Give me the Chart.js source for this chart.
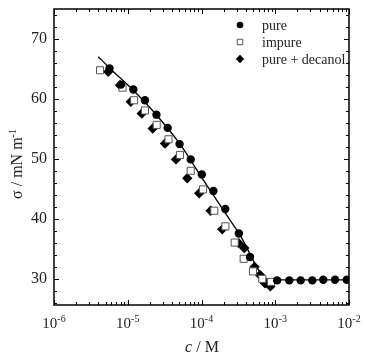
<!DOCTYPE html>
<html>
<head>
<meta charset="utf-8">
<script src="https://cdn.jsdelivr.net/npm/chart.js@4.4.1/dist/chart.umd.min.js"></script>
<style>
    html, body { margin: 0; padding: 0; background: #fff; }
    #wrap { width: 367px; height: 360px; }
</style>
</head>
<body>
<div id="wrap"><canvas id="chart1" width="367" height="360"></canvas></div>
<script>
"use strict";

// concentration c / M and surface tension sigma / mN m^-1
const cPure = [5.66e-6, 8.09e-6, 1.19e-5, 1.71e-5, 2.45e-5, 3.48e-5, 5.04e-5, 7.14e-5, 1.01e-4, 1.45e-4,
    2.10e-4, 3.21e-4, 4.55e-4, 1.06e-3, 1.55e-3, 2.21e-3, 3.18e-3, 4.48e-3, 6.46e-3, 9.31e-3];
const sigmaPure = [65.1, 62.4, 61.6, 59.8, 57.4, 55.2, 52.5, 49.95, 47.45, 44.7,
    41.7, 37.6, 33.7, 29.8, 29.8, 29.8, 29.8, 29.9, 29.9, 29.9];

const cImpure = [4.21e-6, 8.49e-6, 1.22e-5, 1.71e-5, 2.47e-5, 3.57e-5, 5.11e-5, 7.14e-5, 1.05e-4, 1.49e-4,
    2.11e-4, 2.82e-4, 3.73e-4, 4.99e-4, 6.67e-4, 8.75e-4];
const sigmaImpure = [64.8, 61.9, 59.8, 58.1, 55.7, 53.3, 50.7, 48.05, 44.95, 41.4,
    38.8, 36.1, 33.4, 31.3, 30.05, 29.55];

const cDecanol = [5.44e-6, 7.85e-6, 1.10e-5, 1.55e-5, 2.18e-5, 3.20e-5, 4.51e-5, 6.41e-5, 9.31e-5, 1.33e-4,
    1.91e-4, 3.21e-4, 3.80e-4, 5.24e-4, 6.21e-4, 7.26e-4, 8.59e-4];
const sigmaDecanol = [64.55, 62.3, 59.55, 57.6, 55.1, 52.6, 49.95, 46.8, 44.3, 41.4,
    38.3, 36.0, 35.2, 32.05, 30.7, 29.3, 28.8];

// fitted curve
const cFit = [3.99e-6, 5.74e-6, 1.18e-5, 2.47e-5, 5.11e-5, 1.06e-4, 3.19e-4, 8.36e-4, 1.0e-2];
const sigmaFit = [67.05, 65.1, 61.5, 57.3, 52.5, 46.5, 37.7, 29.9, 29.9];

const xDecades = [-6, -5, -4, -3, -2];
const yLabelValues = [30, 40, 50, 60, 70];

const legendNames = ['pure', 'impure', 'pure + decanol'];

const SERIF = '"Liberation Serif", "Times New Roman", serif';

const pairs = (xs, ys) => xs.map((v, i) => ({x: v, y: ys[i]}));

const markerCircle = {pointStyle: 'circle', radius: 4.2, legend: 3.3, fill: '#000', stroke: '#000', width: 0};
const markerSquare = {pointStyle: 'rect', radius: 5, legend: 3.9, fill: '#fff', stroke: '#555', width: 1};
const markerDiamond = {pointStyle: 'rectRot', radius: 5.2, legend: 4.2, fill: '#000', stroke: '#000', width: 0};

const frame = {
    id: 'frame',
    afterDraw(chart) {
        const {ctx, chartArea: a, scales: {x, y}} = chart;
        ctx.save();
        ctx.strokeStyle = '#000';
        ctx.lineWidth = 1.5;
        ctx.strokeRect(a.left, a.top, a.right - a.left, a.bottom - a.top);

        ctx.lineWidth = 1;
        ctx.beginPath();
        for (let v = 26; v <= 74; v += 2) {
            const py = Math.round(y.getPixelForValue(v)) + 0.5;
            const len = v % 10 === 0 ? 5 : 3;
            ctx.moveTo(a.left, py); ctx.lineTo(a.left + len, py);
            ctx.moveTo(a.right, py); ctx.lineTo(a.right - len, py);
        }
        for (const d of xDecades) {
            for (let k = 1; k <= 9; k++) {
                const val = k * Math.pow(10, d);
                if (val > 1.0001e-2) break;
                const px = Math.round(x.getPixelForValue(val)) + 0.5;
                const len = k === 1 ? 5 : 3;
                ctx.moveTo(px, a.bottom); ctx.lineTo(px, a.bottom - len);
                ctx.moveTo(px, a.top); ctx.lineTo(px, a.top + len);
            }
        }
        ctx.stroke();

        // x tick labels 10^d
        ctx.fillStyle = '#222';
        ctx.textBaseline = 'alphabetic';
        ctx.textAlign = 'left';
        for (const d of xDecades) {
            const px = x.getPixelForValue(Math.pow(10, d));
            ctx.font = '15px ' + SERIF;
            const w1 = ctx.measureText('10').width;
            ctx.font = '10px ' + SERIF;
            const sup = String(d);
            const w2 = ctx.measureText(sup).width;
            const start = px - (w1 + w2) / 2;
            ctx.font = '15px ' + SERIF;
            ctx.fillText('10', start, 328);
            ctx.font = '10px ' + SERIF;
            ctx.fillText(sup, start + w1, 322);
        }

        // x title
        ctx.font = 'italic 16px ' + SERIF;
        const wc = ctx.measureText('c').width;
        ctx.font = '16px ' + SERIF;
        const wr = ctx.measureText(' / M').width;
        let sx = 202 - (wc + wr) / 2;
        ctx.font = 'italic 16px ' + SERIF;
        ctx.fillText('c', sx, 352);
        ctx.font = '16px ' + SERIF;
        ctx.fillText(' / M', sx + wc, 352);

        // y title
        ctx.save();
        ctx.translate(22, 164);
        ctx.rotate(-Math.PI / 2);
        ctx.font = '16px ' + SERIF;
        const wm = ctx.measureText('σ / mN m').width;
        ctx.font = '10px ' + SERIF;
        const ws = ctx.measureText('-1').width;
        const ty = -(wm + ws) / 2;
        ctx.font = '16px ' + SERIF;
        ctx.fillText('σ / mN m', ty, 0);
        ctx.font = '10px ' + SERIF;
        ctx.fillText('-1', ty + wm, -6);
        ctx.restore();

        // legend
        const markers = [markerCircle, markerSquare, markerDiamond];
        const rows = [25, 42, 59];
        legendNames.forEach((name, i) => {
            const m = markers[i];
            ctx.fillStyle = m.fill;
            ctx.strokeStyle = m.stroke;
            ctx.lineWidth = m.width;
            Chart.helpers.drawPoint(ctx, {pointStyle: m.pointStyle, radius: m.legend, rotation: 0, borderWidth: m.width}, 240, rows[i]);
            ctx.fillStyle = '#222';
            ctx.font = '14px ' + SERIF;
            ctx.fillText(name, 262, rows[i] + 5);
        });
        ctx.restore();
    }
};

const markerDataset = (label, xs, ys, m, order) => ({
    label,
    data: pairs(xs, ys),
    pointStyle: m.pointStyle,
    pointRadius: m.radius,
    pointHoverRadius: m.radius,
    backgroundColor: m.fill,
    borderColor: m.stroke,
    borderWidth: m.width,
    showLine: false,
    order
});

const config = {
    type: 'scatter',
    data: {
        datasets: [
            markerDataset(legendNames[0], cPure, sigmaPure, markerCircle, 1),
            markerDataset(legendNames[1], cImpure, sigmaImpure, markerSquare, 2),
            markerDataset(legendNames[2], cDecanol, sigmaDecanol, markerDiamond, 3),
            {
                label: 'fit',
                data: pairs(cFit, sigmaFit),
                showLine: true,
                cubicInterpolationMode: 'monotone',
                pointRadius: 0,
                borderColor: '#000',
                borderWidth: 1.3,
                order: 4
            }
        ]
    },
    options: {
        responsive: false,
        animation: false,
        layout: {padding: {top: 9, right: 18, left: 0, bottom: 0}},
        plugins: {legend: {display: false}, tooltip: {enabled: false}},
        scales: {
            x: {
                type: 'logarithmic',
                min: 1e-6,
                max: 1e-2,
                grid: {display: false},
                border: {display: false},
                ticks: {display: false},
                afterFit(s) { s.height = 55; s.paddingLeft = 0; s.paddingRight = 0; }
            },
            y: {
                type: 'linear',
                min: 25.7,
                max: 75,
                grid: {display: false, drawTicks: false},
                border: {display: false},
                afterBuildTicks(s) { s.ticks = yLabelValues.map(v => ({value: v})); },
                ticks: {
                    padding: 7,
                    color: '#222',
                    font: {family: SERIF, size: 16},
                    callback: v => String(v)
                },
                afterFit(s) { s.width = 54; s.paddingTop = 0; s.paddingBottom = 0; }
            }
        }
    },
    plugins: [frame]
};

document.addEventListener("DOMContentLoaded", () => {
    const myChart = new Chart(document.getElementById('chart1'), config);
}, { once: true });
</script>
</body>
</html>
